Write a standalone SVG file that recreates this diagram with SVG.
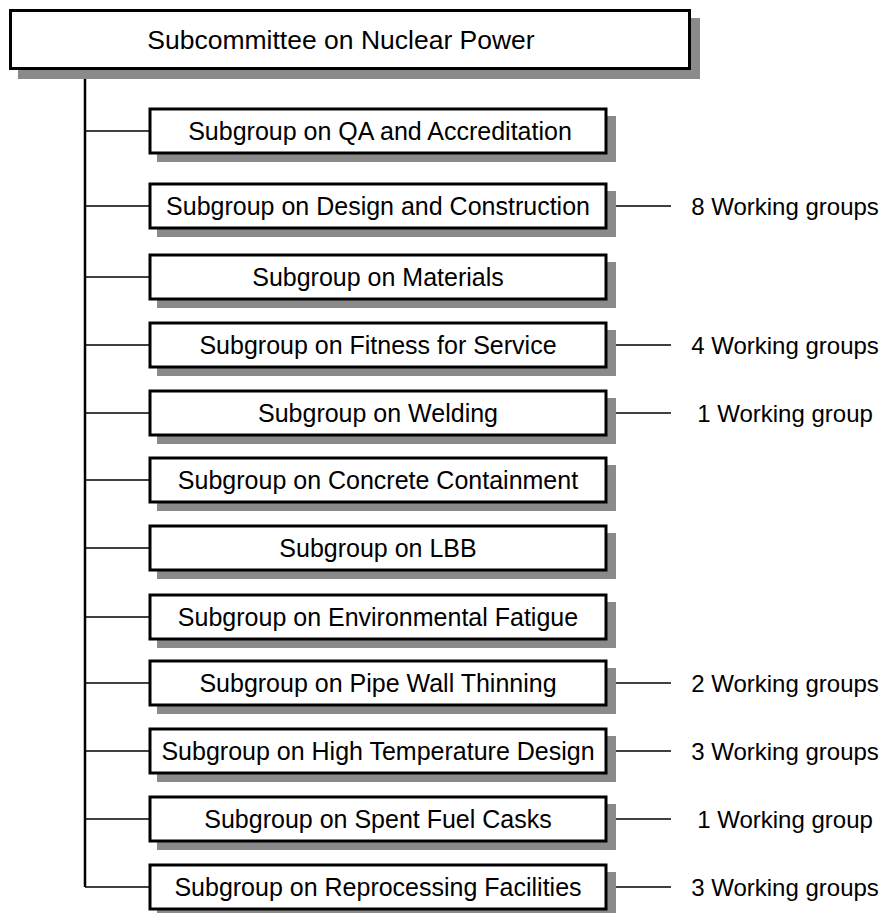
<svg xmlns="http://www.w3.org/2000/svg" width="888" height="913" viewBox="0 0 888 913">
  <style>
    .shadow { fill: #8a8a8a; }
    .box { fill: #ffffff; stroke: #000000; stroke-width: 3; }
    .label { font-family: "Liberation Sans", Arial, sans-serif; font-size: 25px; fill: #000000; text-anchor: middle; }
    .title { font-size: 26.5px; }
    .count { font-size: 24px; }
    .trunk { stroke: #000000; stroke-width: 2.5; fill: none; }
    .link { stroke: #000000; stroke-width: 1.5; fill: none; }
  </style>

  <!-- connectors -->
  <g id="connectors">
    <line class="trunk" x1="85" y1="70" x2="85" y2="887"/>
    <line class="link" x1="85" y1="131" x2="149" y2="131"/>
    <line class="link" x1="85" y1="206" x2="149" y2="206"/>
    <line class="link" x1="85" y1="277" x2="149" y2="277"/>
    <line class="link" x1="85" y1="345" x2="149" y2="345"/>
    <line class="link" x1="85" y1="413" x2="149" y2="413"/>
    <line class="link" x1="85" y1="480" x2="149" y2="480"/>
    <line class="link" x1="85" y1="548" x2="149" y2="548"/>
    <line class="link" x1="85" y1="617" x2="149" y2="617"/>
    <line class="link" x1="85" y1="683" x2="149" y2="683"/>
    <line class="link" x1="85" y1="751" x2="149" y2="751"/>
    <line class="link" x1="85" y1="819" x2="149" y2="819"/>
    <line class="link" x1="85" y1="887" x2="149" y2="887"/>
    <!-- links to working-group counts -->
    <line class="link" x1="607" y1="206" x2="671" y2="206"/>
    <line class="link" x1="607" y1="345" x2="671" y2="345"/>
    <line class="link" x1="607" y1="413" x2="671" y2="413"/>
    <line class="link" x1="607" y1="683" x2="671" y2="683"/>
    <line class="link" x1="607" y1="751" x2="671" y2="751"/>
    <line class="link" x1="607" y1="819" x2="671" y2="819"/>
    <line class="link" x1="607" y1="887" x2="671" y2="887"/>
  </g>

  <!-- root -->
  <g id="subcommittee">
    <rect class="shadow" x="18" y="18" width="682" height="61"/>
    <rect class="box" x="10.5" y="10.5" width="679" height="58"/>
    <text class="label title" x="341" y="49">Subcommittee on Nuclear Power</text>
  </g>

  <!-- subgroups -->
  <g id="sg-qa">
    <rect class="shadow" x="157" y="116" width="459" height="46"/>
    <rect class="box" x="150" y="109" width="456" height="44"/>
    <text class="label" x="380" y="140">Subgroup on QA and Accreditation</text>
  </g>
  <g id="sg-design">
    <rect class="shadow" x="157" y="191" width="459" height="46"/>
    <rect class="box" x="150" y="184" width="456" height="44"/>
    <text class="label" x="378" y="215">Subgroup on Design and Construction</text>
  </g>
  <g id="sg-materials">
    <rect class="shadow" x="157" y="262" width="459" height="46"/>
    <rect class="box" x="150" y="255" width="456" height="44"/>
    <text class="label" x="378" y="286">Subgroup on Materials</text>
  </g>
  <g id="sg-fitness">
    <rect class="shadow" x="157" y="330" width="459" height="46"/>
    <rect class="box" x="150" y="323" width="456" height="44"/>
    <text class="label" x="378" y="354">Subgroup on Fitness for Service</text>
  </g>
  <g id="sg-welding">
    <rect class="shadow" x="157" y="398" width="459" height="46"/>
    <rect class="box" x="150" y="391" width="456" height="44"/>
    <text class="label" x="378" y="422">Subgroup on Welding</text>
  </g>
  <g id="sg-concrete">
    <rect class="shadow" x="157" y="465" width="459" height="46"/>
    <rect class="box" x="150" y="458" width="456" height="44"/>
    <text class="label" x="378" y="489">Subgroup on Concrete Containment</text>
  </g>
  <g id="sg-lbb">
    <rect class="shadow" x="157" y="533" width="459" height="46"/>
    <rect class="box" x="150" y="526" width="456" height="44"/>
    <text class="label" x="378" y="557">Subgroup on LBB</text>
  </g>
  <g id="sg-environmental">
    <rect class="shadow" x="157" y="602" width="459" height="46"/>
    <rect class="box" x="150" y="595" width="456" height="44"/>
    <text class="label" x="378" y="626">Subgroup on Environmental Fatigue</text>
  </g>
  <g id="sg-pipewall">
    <rect class="shadow" x="157" y="668" width="459" height="46"/>
    <rect class="box" x="150" y="661" width="456" height="44"/>
    <text class="label" x="378" y="692">Subgroup on Pipe Wall Thinning</text>
  </g>
  <g id="sg-hightemp">
    <rect class="shadow" x="157" y="736" width="459" height="46"/>
    <rect class="box" x="150" y="729" width="456" height="44"/>
    <text class="label" x="378" y="760">Subgroup on High Temperature Design</text>
  </g>
  <g id="sg-spentfuel">
    <rect class="shadow" x="157" y="804" width="459" height="46"/>
    <rect class="box" x="150" y="797" width="456" height="44"/>
    <text class="label" x="378" y="828">Subgroup on Spent Fuel Casks</text>
  </g>
  <g id="sg-reprocessing">
    <rect class="shadow" x="157" y="872" width="459" height="46"/>
    <rect class="box" x="150" y="865" width="456" height="44"/>
    <text class="label" x="378" y="896">Subgroup on Reprocessing Facilities</text>
  </g>

  <!-- working-group counts -->
  <g id="wg-design"><text class="label count" x="785" y="215">8 Working groups</text></g>
  <g id="wg-fitness"><text class="label count" x="785" y="354">4 Working groups</text></g>
  <g id="wg-welding"><text class="label count" x="785" y="422">1 Working group</text></g>
  <g id="wg-pipewall"><text class="label count" x="785" y="692">2 Working groups</text></g>
  <g id="wg-hightemp"><text class="label count" x="785" y="760">3 Working groups</text></g>
  <g id="wg-spentfuel"><text class="label count" x="785" y="828">1 Working group</text></g>
  <g id="wg-reprocessing"><text class="label count" x="785" y="896">3 Working groups</text></g>
</svg>
